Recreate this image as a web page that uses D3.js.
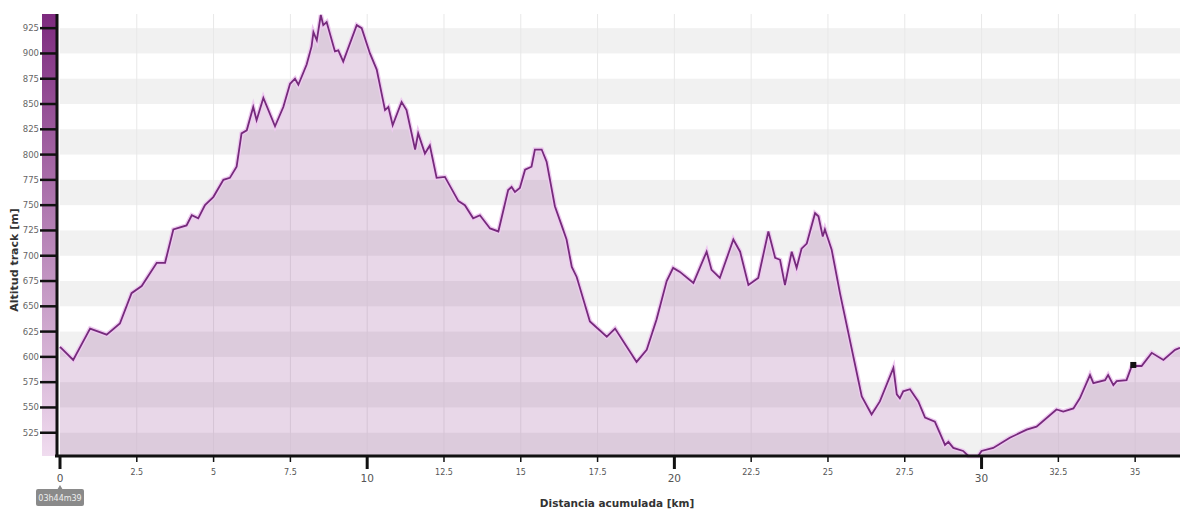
<!DOCTYPE html>
<html>
<head>
<meta charset="utf-8">
<script src="https://cdn.jsdelivr.net/npm/d3@7"></script>
<style>
  body { margin: 0; background: #fff; }
  svg { display: block; }
</style>
</head>
<body>
<div id="chart"></div>
<script>
// profile: distance (km) and altitude (m)
const distKm = [0.00, 0.43, 0.98, 1.52, 1.95, 2.33, 2.66, 3.15, 3.42, 3.69, 4.12, 4.29, 4.50, 4.72, 4.99,
  5.32, 5.53, 5.75, 5.91, 6.08, 6.29, 6.40, 6.62, 7.00, 7.27, 7.49, 7.65, 7.76, 8.03, 8.19, 8.25, 8.36,
  8.49, 8.57, 8.68, 8.95, 9.06, 9.22, 9.66, 9.82, 10.09, 10.31, 10.58, 10.69, 10.83, 11.12, 11.28, 11.56,
  11.66, 11.88, 12.04, 12.26, 12.53, 12.97, 13.18, 13.45, 13.67, 14.00, 14.27, 14.59, 14.70, 14.81, 14.97,
  15.14, 15.35, 15.46, 15.68, 15.84, 16.11, 16.33, 16.49, 16.66, 16.82, 17.25, 17.80, 18.07, 18.45, 18.77,
  19.10, 19.42, 19.75, 19.96, 20.18, 20.62, 21.05, 21.21, 21.48, 21.92, 22.14, 22.41, 22.73, 23.06, 23.28,
  23.44, 23.60, 23.82, 23.98, 24.14, 24.31, 24.58, 24.69, 24.83, 24.90, 25.12, 25.39, 26.10, 26.42, 26.69,
  27.13, 27.24, 27.34, 27.45, 27.67, 27.94, 28.16, 28.48, 28.81, 28.92, 29.08, 29.40, 29.57, 29.89, 30.00,
  30.38, 30.92, 31.47, 31.79, 32.44, 32.66, 32.99, 33.20, 33.53, 33.64, 34.02, 34.12, 34.29, 34.40, 34.72,
  34.89, 35.21, 35.54, 35.92, 36.30, 36.46];
const altitude = [610, 597, 628, 622, 633, 663, 670, 693, 693, 726, 730, 740, 737, 750, 758,
  775, 777, 788, 821, 824, 847, 834, 856, 828, 847, 870, 875, 869, 889, 907, 921, 913,
  938, 928, 931, 902, 903, 892, 928, 925, 900, 884, 844, 847, 829, 852, 844, 805,
  821, 801, 809, 777, 778, 754, 750, 737, 740, 727, 724, 765, 768, 763, 767,
  785, 788, 805, 805, 793, 749, 730, 716, 689, 679, 635, 620, 628, 610, 595,
  607, 637, 675, 688, 684, 673, 704, 686, 678, 716, 704, 671, 678, 724, 698,
  696, 671, 704, 688, 707, 712, 742, 739, 719, 726, 706, 663, 561, 543, 556,
  589, 563, 559, 566, 568, 556, 540, 536, 513, 516, 510, 507, 502, 502, 507,
  510, 520, 528, 531, 548, 546, 549, 559, 582, 574, 577, 582, 572, 576, 577,
  591, 591, 604, 597, 607, 609];

const yTicks = [525, 550, 575, 600, 625, 650, 675, 700, 725, 750, 775, 800, 825, 850, 875, 900, 925];
const xTicks = [0, 2.5, 5, 7.5, 10, 12.5, 15, 17.5, 20, 22.5, 25, 27.5, 30, 32.5, 35];
const xMajor = [0, 10, 20, 30];
const marker = { km: 34.94, alt: 592 };
const timeLabel = "03h44m39";

const width = 1180, height = 511;
const plotLeft = 60, plotRight = 1180, plotTop = 14, plotBottom = 456;

const svg = d3.select("#chart").append("svg")
    .attr("width", width)
    .attr("height", height)
    .style("font-family", "DejaVu Sans, sans-serif");

const x = d3.scaleLinear().domain([0, 36.46]).range([plotLeft, plotRight]);
const y = d3.scaleLinear().domain([502, 939]).range([plotBottom, plotTop]);

const data = distKm.map((d, i) => ({ km: d, alt: altitude[i] }));

// horizontal grey bands every other 25 m
const bands = d3.range(500, 939, 50);
svg.append("g").selectAll("rect")
    .data(bands)
    .enter()
    .append("rect")
    .attr("x", plotLeft)
    .attr("width", plotRight - plotLeft)
    .attr("y", d => Math.max(plotTop, y(d + 25)))
    .attr("height", d => Math.min(plotBottom, y(d)) - Math.max(plotTop, y(d + 25)))
    .attr("fill", "#f1f1f1");

// faint vertical grid
svg.append("g").selectAll("line")
    .data(xTicks.filter(d => d > 0))
    .enter()
    .append("line")
    .attr("x1", d => x(d)).attr("x2", d => x(d))
    .attr("y1", plotTop).attr("y2", plotBottom)
    .attr("stroke", "#e8e8e8")
    .attr("stroke-width", 1);

// area under the profile
const area = d3.area()
    .x(d => x(d.km))
    .y0(plotBottom)
    .y1(d => y(d.alt));

svg.append("path")
    .datum(data)
    .attr("d", area)
    .attr("fill", "rgba(140, 55, 140, 0.2)");

const line = d3.line()
    .x(d => x(d.km))
    .y(d => y(d.alt));

svg.append("path")
    .datum(data)
    .attr("d", line)
    .attr("fill", "none")
    .attr("stroke", "#eecbf0")
    .attr("stroke-width", 4.5);

svg.append("path")
    .datum(data)
    .attr("d", line)
    .attr("fill", "none")
    .attr("stroke", "#762a7c")
    .attr("stroke-width", 1.8);

// position marker
svg.append("rect")
    .attr("x", x(marker.km) - 3)
    .attr("y", y(marker.alt) - 3)
    .attr("width", 6)
    .attr("height", 6)
    .attr("fill", "#111");

// y gradient bar
const grad = svg.append("defs").append("linearGradient")
    .attr("id", "ybar")
    .attr("x1", 0).attr("y1", 0).attr("x2", 0).attr("y2", 1);
grad.append("stop").attr("offset", "0%").attr("stop-color", "#7d2a7e");
grad.append("stop").attr("offset", "100%").attr("stop-color", "#f0dcef");

svg.append("rect")
    .attr("x", 42)
    .attr("y", plotTop)
    .attr("width", 14)
    .attr("height", plotBottom - plotTop)
    .attr("fill", "url(#ybar)");

// y axis
const yAxis = svg.append("g");
yAxis.append("line")
    .attr("x1", 57).attr("x2", 57)
    .attr("y1", plotTop).attr("y2", plotBottom + 1)
    .attr("stroke", "#111")
    .attr("stroke-width", 3);
yAxis.selectAll("line.tick")
    .data(yTicks)
    .enter()
    .append("line")
    .attr("class", "tick")
    .attr("x1", 40).attr("x2", 57)
    .attr("y1", d => y(d)).attr("y2", d => y(d))
    .attr("stroke", "#111")
    .attr("stroke-width", 2.5);
yAxis.selectAll("text")
    .data(yTicks)
    .enter()
    .append("text")
    .attr("x", 39)
    .attr("y", d => y(d))
    .attr("dy", "0.35em")
    .attr("text-anchor", "end")
    .attr("font-size", "8.5px")
    .attr("fill", "#666")
    .text(d => d);

svg.append("text")
    .attr("transform", "translate(18,260) rotate(-90)")
    .attr("text-anchor", "middle")
    .attr("font-size", "11px")
    .attr("font-weight", "bold")
    .attr("fill", "#333")
    .text("Altitud track [m]");

// x axis
const xAxis = svg.append("g");
xAxis.append("line")
    .attr("x1", 55).attr("x2", plotRight)
    .attr("y1", plotBottom).attr("y2", plotBottom)
    .attr("stroke", "#111")
    .attr("stroke-width", 3);
xAxis.selectAll("line.tick")
    .data(xTicks)
    .enter()
    .append("line")
    .attr("class", "tick")
    .attr("x1", d => x(d)).attr("x2", d => x(d))
    .attr("y1", plotBottom)
    .attr("y2", d => xMajor.includes(d) ? plotBottom + 13 : plotBottom + 6)
    .attr("stroke", "#111")
    .attr("stroke-width", d => xMajor.includes(d) ? 3 : 1.5);
xAxis.selectAll("text")
    .data(xTicks)
    .enter()
    .append("text")
    .attr("x", d => x(d))
    .attr("y", d => xMajor.includes(d) ? plotBottom + 26 : plotBottom + 19)
    .attr("text-anchor", "middle")
    .attr("font-size", d => xMajor.includes(d) ? "10.5px" : "8px")
    .attr("fill", "#555")
    .text(d => d);

// elapsed time label under the start, with a small pointer
svg.append("path")
    .attr("d", `M${x(0) - 3},490 L${x(0)},485 L${x(0) + 3},490 Z`)
    .attr("fill", "#8a8a8a");
svg.append("rect")
    .attr("x", x(0) - 24)
    .attr("y", 489)
    .attr("width", 48)
    .attr("height", 17)
    .attr("rx", 2)
    .attr("fill", "#8a8a8a");
svg.append("text")
    .attr("x", x(0))
    .attr("y", 501)
    .attr("text-anchor", "middle")
    .attr("font-size", "8px")
    .attr("fill", "#eee")
    .text(timeLabel);

svg.append("text")
    .attr("x", 617)
    .attr("y", 507)
    .attr("text-anchor", "middle")
    .attr("font-size", "10.5px")
    .attr("font-weight", "bold")
    .attr("fill", "#333")
    .text("Distancia acumulada [km]");
</script>
</body>
</html>
